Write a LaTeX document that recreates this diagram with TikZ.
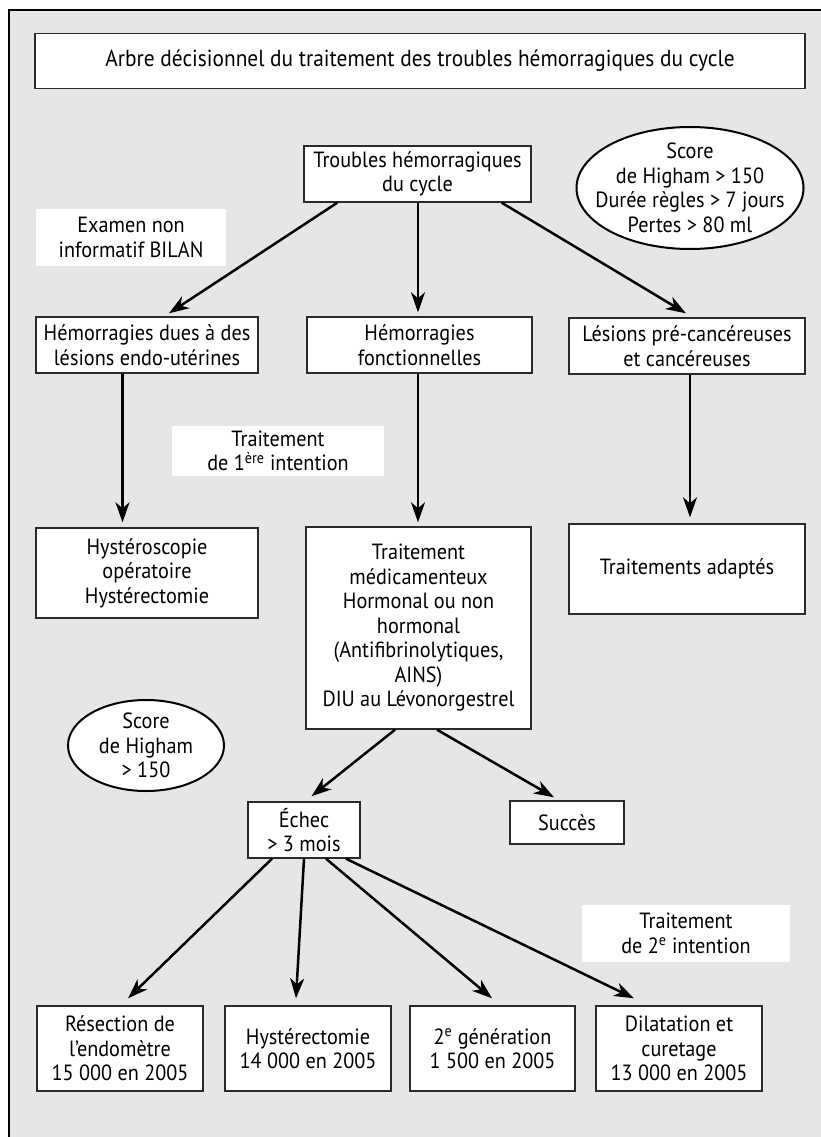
\documentclass[tikz,border=0pt]{standalone}
\usepackage{fontspec}
\setmainfont{PT Sans}[FakeStretch=0.92]
\usetikzlibrary{shapes.geometric,arrows.meta}
\definecolor{bg}{HTML}{E6E6E6}
\definecolor{edge}{HTML}{2A2A2A}
\newcommand{\txt}{\fontsize{22}{24.5}\selectfont}
\tikzset{
  box/.style={draw=edge, fill=white, line width=1.4pt, align=center, inner sep=2pt, font=\txt},
  lab/.style={fill=white, align=center, inner sep=2pt, font=\txt},
  oval/.style={ellipse, draw=black, fill=white, line width=2pt, inner sep=0pt},
  ovaltext/.style={align=center, inner sep=0pt, font=\txt},
  arr/.style={line width=2.5pt, -{Stealth[length=20pt,width=14pt,inset=6pt]}},
}
\begin{document}
\begin{tikzpicture}[x=1pt,y=-1pt]
\useasboundingbox (0,0) rectangle (821,1137);
\fill[white] (0,0) rectangle (821,1137);
\fill[bg] (9,10) rectangle (821,1137);
\draw[line width=1.4pt] (9,1137) -- (9,10) -- (821,10);

\node[box, font=\fontsize{23.2}{26}\selectfont, minimum width=770pt, minimum height=55pt] (title) at (420,61)
  {Arbre décisionnel du traitement des troubles hémorragiques du cycle};

\node[box, minimum width=227pt, minimum height=56pt] (troubles) at (417.5,174)
  {Troubles hémorragiques\\du cycle};
\node[oval, minimum width=227pt, minimum height=122pt] (oval1) at (690,188) {};
\node[ovaltext] (oval1t) at (oval1.center)
  {Score\\de Higham > 150\\Durée règles > 7 jours\\Pertes > 80 ml};
\node[lab, minimum width=190pt, minimum height=57pt] (examen) at (131,237.5)
  {Examen non\\informatif BILAN};

\node[box, minimum width=222pt, minimum height=56pt] (hdue) at (147,345)
  {Hémorragies dues à des\\lésions endo-utérines};
\node[box, minimum width=225pt, minimum height=56pt] (hfonc) at (419.5,345)
  {Hémorragies\\fonctionnelles};
\node[box, minimum width=236pt, minimum height=56pt] (lesions) at (687,346)
  {Lésions pré-cancéreuses\\et cancéreuses};

\node[lab, minimum width=212pt, minimum height=50pt] (trait1) at (278,451)
  {Traitement\\de 1\textsuperscript{ère} intention};

\node[box, minimum width=222pt, minimum height=90pt] (hyst) at (147,573)
  {Hystéroscopie\\opératoire\\Hystérectomie};
\node[box, minimum width=225pt, minimum height=202pt] (med) at (418.5,628)
  {Traitement\\médicamenteux\\Hormonal ou non\\hormonal\\(Antifibrinolytiques,\\AINS)\\DIU au Lévonorgestrel};
\node[box, minimum width=236pt, minimum height=90pt] (adapt) at (687,569)
  {Traitements adaptés};

\node[oval, minimum width=156pt, minimum height=91pt] (oval2) at (146,745.5) {};
\node[ovaltext] (oval2t) at (oval2.center) {Score\\de Higham\\> 150};

\node[box, minimum width=112pt, minimum height=56pt] (echec) at (304,830)
  {Échec\\> 3 mois};
\node[box, minimum width=114pt, minimum height=43pt] (succes) at (567,822.5)
  {Succès};

\node[lab, minimum width=208pt, minimum height=57pt] (trait2) at (686,933.5)
  {Traitement\\de 2\textsuperscript{e} intention};

\node[box, minimum width=166pt, minimum height=85pt] (b1) at (120,1048.5)
  {Résection de\\l’endomètre\\15 000 en 2005};
\node[box, minimum width=166pt, minimum height=85pt] (b2) at (308,1048.5)
  {Hystérectomie\\14 000 en 2005};
\node[box, minimum width=165pt, minimum height=85pt] (b3) at (492.5,1048.5)
  {2\textsuperscript{e} génération\\1 500 en 2005};
\node[box, minimum width=166pt, minimum height=85pt] (b4) at (679,1048.5)
  {Dilatation et\\curetage\\13 000 en 2005};

% arrows
\draw[arr] ([xshift=34pt]troubles.south west) -- ([xshift=22pt,yshift=3pt]hdue.north);
\draw[arr] ([xshift=0.5pt]troubles.south) -- ([xshift=-1.5pt,yshift=4pt]hfonc.north);
\draw[arr] ([xshift=-30pt]troubles.south east) -- ([xshift=-1pt,yshift=4pt]lesions.north);

\draw[arr] ([xshift=-24.5pt]hdue.south) -- ([xshift=-24.5pt,yshift=5pt]hyst.north);
\draw[arr] ([xshift=-1.5pt]hfonc.south) -- ([xshift=-0.5pt,yshift=4pt]med.north);
\draw[arr] ([xshift=3pt]lesions.south) -- ([xshift=3pt,yshift=6pt]adapt.north);

\draw[arr] ([xshift=-23.5pt]med.south) -- ([xshift=7.5pt,yshift=5pt]echec.north);
\draw[arr] ([xshift=18.5pt]med.south) -- ([xshift=-13pt,yshift=3pt]succes.north);

\draw[arr] ([xshift=-32pt]echec.south) -- ([xshift=8pt,yshift=7pt]b1.north);
\draw[arr] (echec.south) -- ([xshift=-12pt,yshift=7pt]b2.north);
\draw[arr] ([xshift=22pt]echec.south) -- ([xshift=-0.5pt,yshift=7pt]b3.north);
\draw[arr] ([xshift=42pt]echec.south) -- ([xshift=-45pt,yshift=7pt]b4.north);
\end{tikzpicture}
\end{document}
